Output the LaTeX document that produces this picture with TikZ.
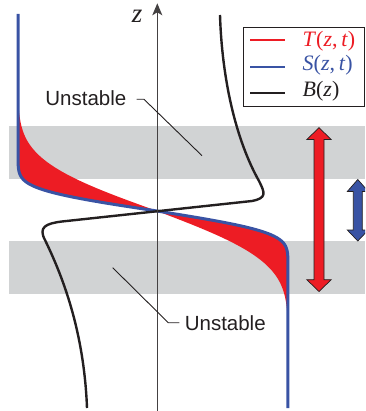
\documentclass[tikz,border=0pt]{standalone}
\usepackage{fontspec}
\newfontfamily\lsans{Liberation Sans}
\newfontfamily\lserif{Liberation Serif}
\usetikzlibrary{arrows.meta}
\definecolor{tred}{HTML}{ED1C24}
\definecolor{tblue}{HTML}{3953A4}
\definecolor{tblack}{HTML}{231F20}
\definecolor{band}{HTML}{D1D3D4}
\tikzset{
  declare function={
    uS(\d)=min(\d/21+(\d/40.5)^3,4.5);
    uT(\d)=min(\d/50+(\d/107.7)^3,4.5);
    fS(\d)=tanh(uS(\d));
    fT(\d)=tanh(uT(\d));
  },
  lbl/.style={font=\lsans\fontsize{20.5}{24}\selectfont, text=tblack, inner sep=0pt},
  leg/.style={font=\lserif\fontsize{22}{26}\selectfont, inner sep=0pt, anchor=base west},
  leader/.style={draw=tblack, line width=0.9pt},
  dblarrow/.style={draw=tblack, line width=0.7pt, line join=miter},
}
\begin{document}
\begin{tikzpicture}[x=1pt,y=-1pt]
\useasboundingbox (0,0) rectangle (365,411);
% gray bands
\fill[band] (8.7,126) rectangle (365,178.7);
\fill[band] (8.7,241) rectangle (365,293.5);
% red region between S and T
\fill[tred] plot[domain=0:110,samples=90] ({157-139*fS(\x)},{211-\x})
   -- plot[domain=110:0,samples=90] ({157-139*fT(\x)},{211-\x}) -- cycle;
\fill[tred] plot[domain=0:112,samples=90] ({157+131*fS(\x)},{211+\x})
   -- plot[domain=112:0,samples=90] ({157+131*fT(\x)},{211+\x}) -- cycle;
% blue S curve
\draw[tblue, line width=3pt, line join=round]
   plot[domain=197:0,samples=160] ({157-139*fS(\x)},{211-\x})
   -- plot[domain=0:197,samples=160] ({157+131*fS(\x)},{211+\x});
% black B curve
\draw[tblack, line width=2.4pt, line join=round]
  (220,15) .. controls (222,80) and (236,140) .. (259,181)
  .. controls (265,193) and (267,198) .. (252,201)
  -- (62,221.5)
  .. controls (46,223.5) and (38,227) .. (45,240)
  .. controls (62,275) and (84,330) .. (87,408);
% axis
\coordinate (axb) at (157.3,411);
\coordinate (axt) at (157.3,3.3);
\draw[tblack!85, line width=1.2pt, -{Stealth[length=12pt,width=10pt,inset=3pt]}] (axb) -- (axt);
\node[font=\lserif\itshape\fontsize{27}{30}\selectfont, inner sep=0pt, text=tblack] (zlab) at (137.2,16) {z};
% labels
\node[lbl, anchor=base west] (u1) at (45.2,106) {Unstable};
\node[lbl, anchor=base west] (u2) at (184.6,330.6) {Unstable};
\coordinate (l1a) at (136.7,99.3);
\coordinate (l1b) at (144,99.3);
\coordinate (l1c) at (202,155.7);
\coordinate (l2a) at (179.3,322.7);
\coordinate (l2b) at (168.3,322.7);
\coordinate (l2c) at (112.7,267.7);
\draw[leader] (l1a) -- (l1b) -- (l1c);
\draw[leader] (l2a) -- (l2b) -- (l2c);
% red double arrow
\draw[dblarrow, fill=tred] (319,127.7) -- (331.2,139.5) -- (324,139.5) -- (324,279.7)
  -- (331.2,279.7) -- (319,291.5) -- (306.8,279.7) -- (314,279.7) -- (314,139.5)
  -- (306.8,139.5) -- cycle;
% blue double arrow (clipped by the frame)
\begin{scope}
\clip (0,0) rectangle (365,411);
\draw[dblarrow, fill=tblue] (357.8,179.5) -- (368.3,191.5) -- (362.3,191.5) -- (362.3,230)
  -- (368.3,230) -- (357.8,241) -- (347.3,230) -- (353.3,230) -- (353.3,191.5)
  -- (347.3,191.5) -- cycle;
\end{scope}
% legend
\node[draw=tblack, line width=0.8pt, fill=white, minimum width=121pt, minimum height=79pt,
  anchor=north west, inner sep=0pt] (legend) at (243,27) {};
\draw[tred, line width=2pt] (250,40) -- (285,40);
\draw[tblue, line width=2pt] (250,66.7) -- (285,66.7);
\draw[tblack, line width=2pt] (250,92.7) -- (285,92.7);
\node[leg, text=tred] (legT) at (302.5,47) {\textit{T}(\textit{z},\,\textit{t})};
\node[leg, text=tblue] (legS) at (302.5,70.5) {\textit{S}(\textit{z},\,\textit{t})};
\node[leg, text=tblack] (legB) at (302.5,97) {\textit{B}(\textit{z})};
\end{tikzpicture}
\end{document}
